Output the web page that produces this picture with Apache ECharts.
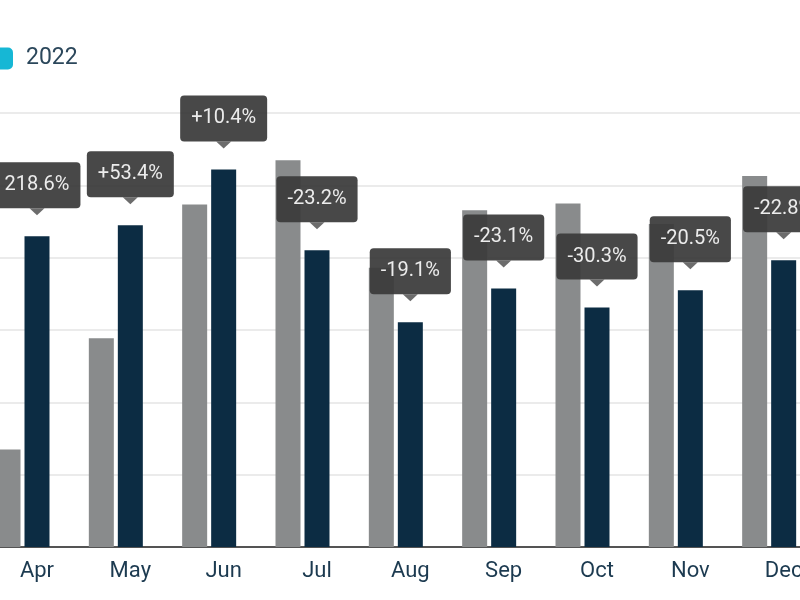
<!DOCTYPE html>
<html>
<head>
<meta charset="utf-8">
<script src="https://cdn.jsdelivr.net/npm/echarts@6/dist/echarts.min.js"></script>
<style>html,body{margin:0;padding:0;background:#fff;}#c{width:800px;height:600px;}</style>
</head>
<body>
<div id="c"></div>
<script>
var months = ['Apr','May','Jun','Jul','Aug','Sep','Oct','Nov','Dec'];
var values2020 = [67.4, 144.3, 236.7, 267.3, 193, 232.7, 237.4, 223.3, 256.4];
var values2021 = [214.8, 222.4, 261, 205.1, 155.4, 178.7, 165.5, 177.5, 198.2];
var values2022 = [null, null, null, null, null, null, null, null, null];
var changeLabels = ['218.6%','+53.4%','+10.4%','-23.2%','-19.1%','-23.1%','-30.3%','-20.5%','-22.8%'];

var boxColor = 'rgba(58,58,58,0.93)';
var chart = echarts.init(document.getElementById('c'));
chart.setOption({
  animation: false,
  textStyle: {fontFamily: 'Roboto'},
  legend: {
    data: ['2022'],
    left: -12, top: 42,
    icon: 'roundRect',
    itemWidth: 20, itemHeight: 22,
    textStyle: {fontSize: 23, color: '#2b475b', fontFamily: 'Roboto', padding: [0,0,0,8]}
  },
  grid: {left: -9.67, width: 840, top: 113, bottom: 53, containLabel: false, outerBoundsMode: 'none'},
  xAxis: {
    type: 'category',
    data: months,
    axisTick: {show: false},
    axisLine: {lineStyle: {color: '#222', width: 1.5}},
    axisLabel: {fontSize: 22, color: '#1c3a50', margin: 13, fontFamily: 'Roboto'}
  },
  yAxis: {
    type: 'value', min: 0, max: 300, interval: 50,
    axisLabel: {show: false},
    axisLine: {show: false},
    axisTick: {show: false},
    splitLine: {lineStyle: {color: '#e4e4e4', width: 1.5}}
  },
  series: [
    {name: '2020', type: 'bar', data: values2020, barWidth: 25, barGap: '16%',
     itemStyle: {color: '#898b8c'}},
    {name: '2021', type: 'bar', data: values2021, barWidth: 25, barGap: '16%',
     itemStyle: {color: '#0c2c43'},
     label: {
       show: true, position: 'top', distance: 28,
       formatter: function (p) { return changeLabels[p.dataIndex]; },
       backgroundColor: boxColor, borderRadius: 4,
       padding: [13, 11], lineHeight: 20,
       fontSize: 20, color: '#ececec', fontFamily: 'Roboto'
     }},
    {name: '2022', type: 'bar', data: values2022, barWidth: 25, barGap: '16%',
     itemStyle: {color: '#16b7d5'}},
    {name: 'pointer', type: 'scatter', data: values2021,
     symbol: 'triangle', symbolRotate: 180, symbolSize: [15, 7],
     symbolOffset: [0, -24.5], itemStyle: {color: boxColor}, z: 3, silent: true}
  ]
});
</script>
</body>
</html>
